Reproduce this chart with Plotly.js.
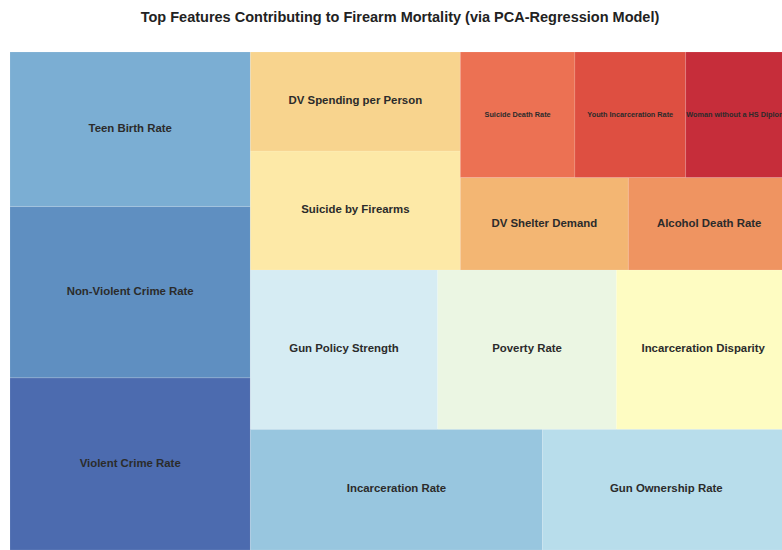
<!DOCTYPE html>
<html><head><meta charset="utf-8">
<script src="https://cdn.plot.ly/plotly-3.0.1.min.js"></script>
<style>html,body{margin:0;padding:0;overflow:hidden;background:#fff}#chart{width:800px;height:550px}</style>
</head><body><div id="chart"></div>
<script>
// Feature names, sorted by importance (descending) as in the reference
const features = [
  "Violent Crime Rate", "Non-Violent Crime Rate", "Teen Birth Rate",
  "Incarceration Rate", "Gun Ownership Rate", "Gun Policy Strength",
  "Poverty Rate", "Incarceration Disparity", "Suicide by Firearms",
  "DV Spending per Person", "DV Shelter Demand", "Alcohol Death Rate",
  "Suicide Death Rate", "Youth Incarceration Rate", "Woman without a HS Diploma"
];
// Estimated relative importance (share, %) read from tile areas
const importance = [10.66, 10.61, 9.56, 9.09, 7.70, 7.68, 7.33, 7.12, 6.43, 5.35, 4.00, 3.85, 3.70, 3.58, 3.37];
// Tile colours (RdYlBu-like), one per feature
const tileColors = [
  "#4c6baf", "#5f8fc1", "#7baed3", "#98c6df", "#b8ddeb", "#d6ecf3",
  "#ebf6e3", "#fefcc2", "#fde9a7", "#f8d48e", "#f3b673", "#ef9461",
  "#ec7153", "#de4f41", "#c62d3a"
];
const titleText = "Top Features Contributing to Firearm Mortality (via PCA-Regression Model)";

// ---- squarify (port of the Python 'squarify' package) ----
function sum(a){return a.reduce((s,v)=>s+v,0);}
function normalizeSizes(sizes, dx, dy){const t=sum(sizes);return sizes.map(s=>s*dx*dy/t);}
function layoutRow(sizes,x,y,dx,dy){const w=sum(sizes)/dy;const r=[];for(const s of sizes){r.push({x:x,y:y,dx:w,dy:s/w});y+=s/w;}return r;}
function layoutCol(sizes,x,y,dx,dy){const h=sum(sizes)/dx;const r=[];for(const s of sizes){r.push({x:x,y:y,dx:s/h,dy:h});x+=s/h;}return r;}
function layout(sizes,x,y,dx,dy){return dx>=dy?layoutRow(sizes,x,y,dx,dy):layoutCol(sizes,x,y,dx,dy);}
function leftover(sizes,x,y,dx,dy){
  if(dx>=dy){const w=sum(sizes)/dy;return [x+w,y,dx-w,dy];}
  const h=sum(sizes)/dx;return [x,y+h,dx,dy-h];
}
function worstRatio(sizes,x,y,dx,dy){return Math.max(...layout(sizes,x,y,dx,dy).map(r=>Math.max(r.dx/r.dy,r.dy/r.dx)));}
function squarify(sizes,x,y,dx,dy){
  if(sizes.length===0)return [];
  if(sizes.length===1)return layout(sizes,x,y,dx,dy);
  let i=1;
  while(i<sizes.length && worstRatio(sizes.slice(0,i),x,y,dx,dy)>=worstRatio(sizes.slice(0,i+1),x,y,dx,dy)) i++;
  const cur=sizes.slice(0,i), rem=sizes.slice(i);
  const lo=leftover(cur,x,y,dx,dy);
  return layout(cur,x,y,dx,dy).concat(squarify(rem,lo[0],lo[1],lo[2],lo[3]));
}

const W=100, H=100;
const rects = squarify(normalizeSizes(importance,W,H),0,0,W,H);

const plotWpx = 780; // plot area width in px
const shapes = rects.map((r,i)=>({
  type:"rect", xref:"x", yref:"y",
  x0:r.x, x1:r.x+r.dx, y0:r.y, y1:r.y+r.dy,
  fillcolor:tileColors[i],
  line:{width:0.5,color:"rgba(255,255,255,0.22)"},
  layer:"below"
}));
const cx = rects.map(r=>r.x+r.dx/2);
const cy = rects.map(r=>r.y+r.dy/2);
const sizesPx = rects.map(r=> (r.dx/W*plotWpx) < 130 ? 7.3 : 11.4);

const trace = {
  type:"scatter", mode:"text", x:cx, y:cy, text:features,
  textposition:"middle center",
  textfont:{family:"Liberation Sans, Arial, sans-serif", size:sizesPx, color:"#2b2b2b", weight:"bold"},
  hoverinfo:"skip", showlegend:false, cliponaxis:false
};

const layoutObj = {
  width:800, height:550,
  margin:{l:10,r:10,t:52,b:0,pad:0},
  paper_bgcolor:"#ffffff", plot_bgcolor:"#ffffff",
  title:{text:titleText, x:0.5, xref:"container", xanchor:"center",
         y:1-17/550, yref:"container", yanchor:"middle",
         font:{family:"Liberation Sans, Arial, sans-serif", size:14.5, color:"#222222", weight:"bold"}},
  xaxis:{range:[0,W], visible:false, fixedrange:true},
  yaxis:{range:[0,H], visible:false, fixedrange:true},
  shapes:shapes,
  showlegend:false
};
Plotly.newPlot("chart",[trace],layoutObj,{displayModeBar:false,staticPlot:true});
</script></body></html>
